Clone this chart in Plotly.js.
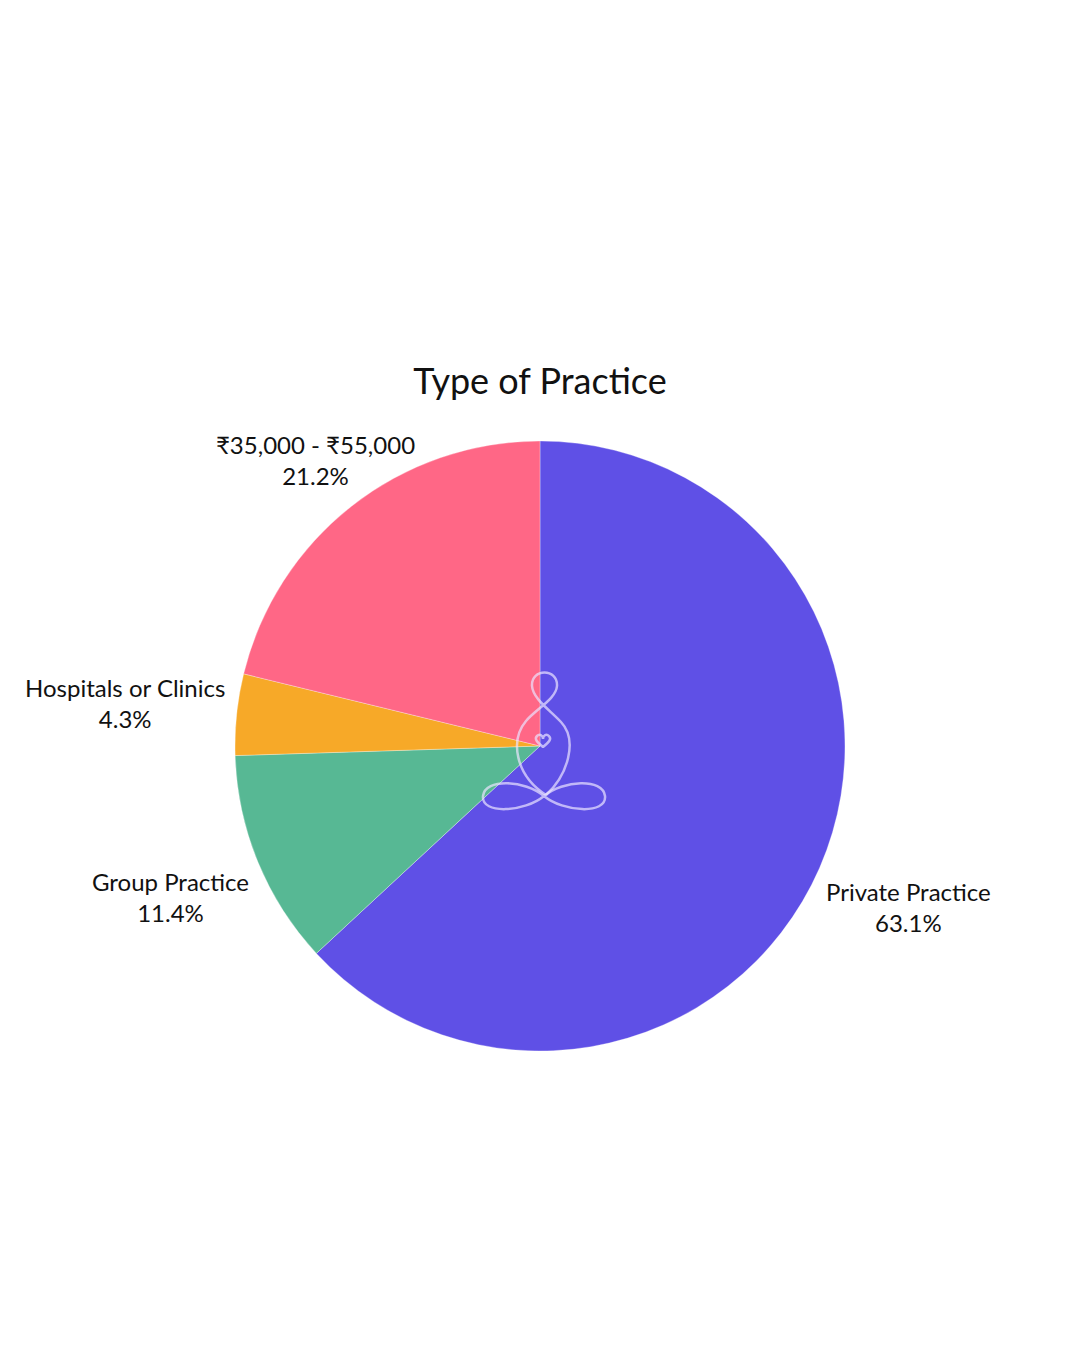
<!DOCTYPE html>
<html>
<head>
<meta charset="utf-8">
<script src="https://cdn.plot.ly/plotly-3.0.1.min.js"></script>
<style>
  html, body { margin: 0; padding: 0; background: #ffffff; }
  #chart { width: 1080px; height: 1350px; }
</style>
</head>
<body>
<div id="chart"></div>
<script>
// Share of respondents by type of practice (percent)
const categories = ['Private Practice', 'Group Practice', 'Hospitals or Clinics', '₹35,000 - ₹55,000'];
const shares = [63.1, 11.4, 4.3, 21.2];
const sliceColors = ['#5f50e6', '#57b894', '#f7a928', '#ff6786'];

const W = 1080, H = 1350;
const FONT = 'Lato, "Noto Sans", sans-serif';

// pixel -> paper coordinate helpers
const px = x => (x / W).toFixed(5);
const py = y => (1 - y / H).toFixed(5);
function pathFrom(cmds) {
  return cmds.map(c => c[0] + ' ' + c.slice(1).map((v, i) => (i % 2 === 0 ? px(v) : py(v))).join(' ')).join(' ');
}

// line-art figure drawn over the pie centre
const logoInfinity = pathFrom([
  ['M', 544, 796],
  ['C', 525, 780, 485, 778, 483, 796],
  ['C', 481, 815, 525, 812, 544, 796],
  ['C', 563, 780, 603, 778, 605, 796],
  ['C', 607, 815, 563, 812, 544, 796]
]);
const logoBody = pathFrom([
  ['M', 546, 795],
  ['C', 515, 775, 510, 740, 526, 721],
  ['C', 536, 709, 556, 699, 557, 686],
  ['C', 558, 668, 531, 668, 532, 686],
  ['C', 533, 699, 550, 710, 561, 722],
  ['C', 578, 740, 568, 775, 546, 795]
]);
const logoHeart = pathFrom([
  ['M', 543, 747],
  ['C', 537, 742, 534, 739, 537, 736],
  ['C', 540, 733, 543, 736, 543, 739],
  ['C', 543, 736, 546, 733, 549, 736],
  ['C', 552, 739, 549, 742, 543, 747]
]);
const logoLine = { color: 'rgba(235,228,255,0.7)', width: 2.5 };

// label anchor points (pixel centres of each two-line label), in category order
const labelSpots = [[908, 907], [170, 897], [125, 703], [315, 460]];

const trace = {
  type: 'pie',
  labels: categories,
  values: shares,
  sort: false,
  direction: 'clockwise',
  rotation: 0,
  marker: { colors: sliceColors, line: { color: 'rgba(255,255,255,0.6)', width: 0.5 } },
  textinfo: 'none',
  hoverinfo: 'label+percent',
  domain: { x: [235 / W, 845 / W], y: [1 - 1051 / H, 1 - 441 / H] },
  showlegend: false
};

const annotations = categories.map((c, i) => ({
  xref: 'paper', yref: 'paper',
  x: labelSpots[i][0] / W, y: 1 - labelSpots[i][1] / H,
  xanchor: 'center', yanchor: 'middle',
  text: c + '<br>' + shares[i].toFixed(1) + '%',
  showarrow: false,
  align: 'center',
  font: { family: FONT, size: 24, color: '#111111' }
}));

const layout = {
  width: W,
  height: H,
  margin: { l: 0, r: 0, t: 0, b: 0 },
  paper_bgcolor: '#ffffff',
  title: {
    text: 'Type of Practice',
    font: { family: FONT, size: 36, color: '#111111' },
    x: 0.5, xanchor: 'center',
    y: 1 - 381 / H, yanchor: 'middle'
  },
  annotations: annotations,
  shapes: [
    { type: 'path', xref: 'paper', yref: 'paper', path: logoInfinity, line: logoLine },
    { type: 'path', xref: 'paper', yref: 'paper', path: logoBody, line: logoLine },
    { type: 'path', xref: 'paper', yref: 'paper', path: logoHeart, line: logoLine }
  ]
};

Plotly.newPlot('chart', [trace], layout, { displayModeBar: false, staticPlot: true });
</script>
</body>
</html>
